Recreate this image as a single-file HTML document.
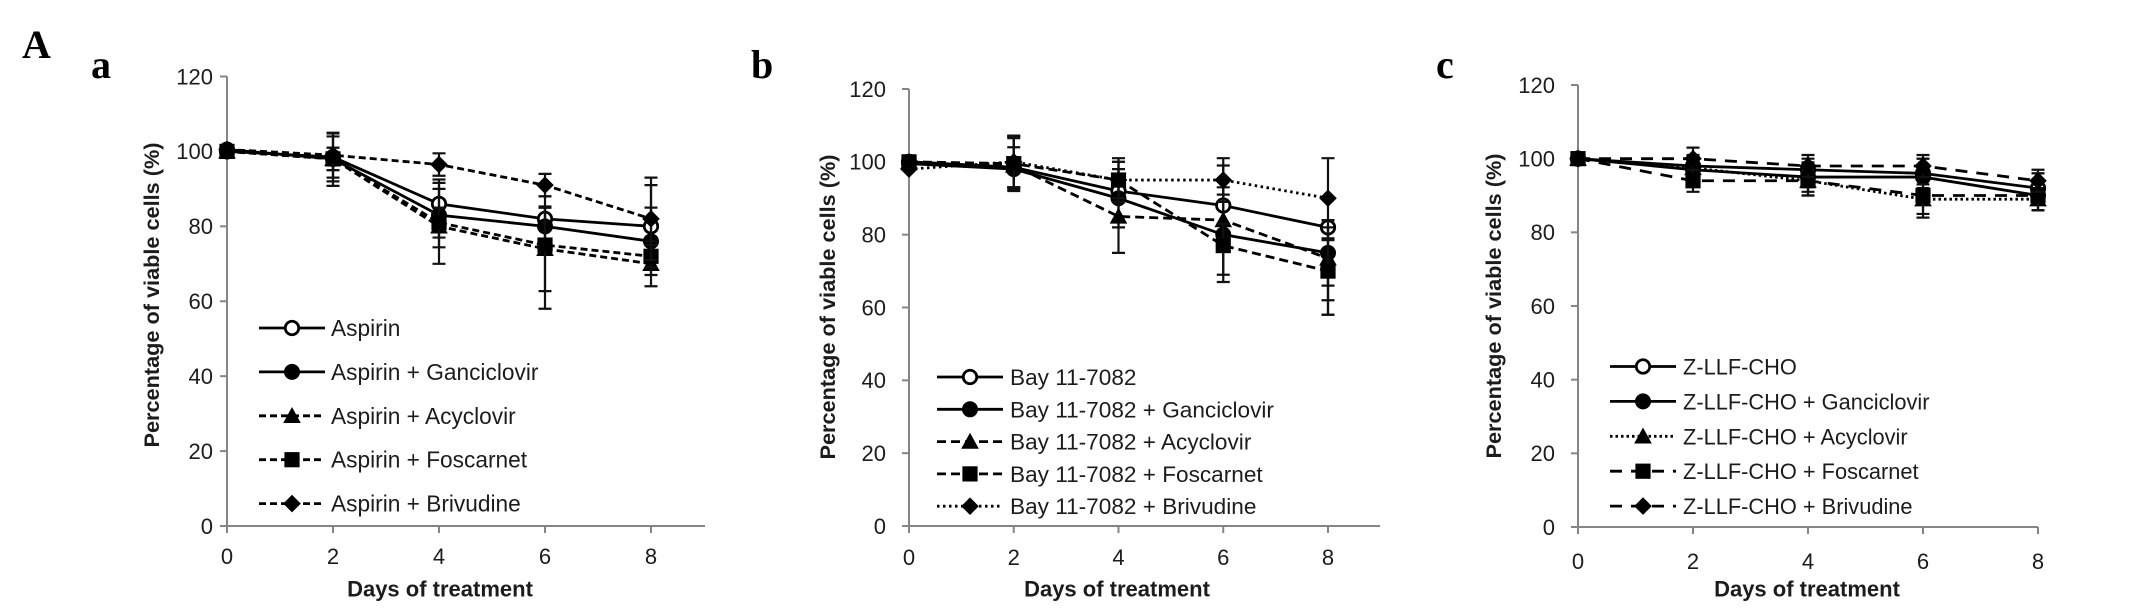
<!DOCTYPE html>
<html lang="en">
<head>
<meta charset="utf-8">
<title>Percentage of viable cells over days of treatment</title>
<style>
html,body{margin:0;padding:0;background:#fff;width:2142px;height:612px;overflow:hidden}
svg{display:block}
text{font-family:"Liberation Sans",sans-serif;fill:#1c1c1c}
.letter{font-family:"Liberation Serif",serif;font-weight:bold;fill:#000}
</style>
</head>
<body>
<svg id="figure" xmlns="http://www.w3.org/2000/svg" width="2142" height="612" viewBox="0 0 2142 612">
  <rect width="2142" height="612" fill="#fff"/>
  <text class="letter" x="22" y="58" font-size="40">A</text>
  <text class="letter" x="91" y="78" font-size="40">a</text>
  <text class="letter" x="751" y="78" font-size="40">b</text>
  <text class="letter" x="1436" y="78" font-size="40">c</text>
</svg>
<script>
// ---------- shared axis data ----------
const days = [0, 2, 4, 6, 8];
const yTickValues = [0, 20, 40, 60, 80, 100, 120];
const xTitle = "Days of treatment";
const yTitle = "Percentage of viable cells (%)";

// ---------- panel a ----------
const aNames = ["Aspirin", "Aspirin + Ganciclovir", "Aspirin + Acyclovir", "Aspirin + Foscarnet", "Aspirin + Brivudine"];
const aAspirin = [100, 98.5, 86, 82, 80];
const aAspirinUp = [0, 6.3, 6.5, 6, 11];
const aAspirinDn = [0, 7.7, 6.5, 6, 11];
const aGanciclovir = [100.5, 98, 83, 80, 76];
const aGanciclovirUp = [0, 6, 8.6, 5, 9];
const aGanciclovirDn = [0, 6, 8.6, 5, 9];
const aAcyclovir = [100, 98, 80, 74, 70];
const aAcyclovirUp = [0, 3, 10, 11.3, 6];
const aAcyclovirDn = [0, 3, 10, 11.3, 6];
const aFoscarnet = [100, 98, 81, 75, 72];
const aFoscarnetUp = [0, 3, 4, 10, 3];
const aFoscarnetDn = [0, 3, 4, 17, 3];
const aBrivudine = [100.5, 99, 96.5, 91, 82];
const aBrivudineUp = [0, 6, 3, 3, 11];
const aBrivudineDn = [0, 6, 3, 3, 11];

// ---------- panel b ----------
const bNames = ["Bay 11-7082", "Bay 11-7082 + Ganciclovir", "Bay 11-7082 + Acyclovir", "Bay 11-7082 + Foscarnet", "Bay 11-7082 + Brivudine"];
const bBay = [100, 98.5, 92, 88, 82];
const bBayUp = [0, 8.7, 8, 5, 2];
const bBayDn = [0, 6.5, 8, 5, 20];
const bGanciclovir = [99.5, 98, 90, 80, 75];
const bGanciclovirUp = [0, 6, 8, 11, 9];
const bGanciclovirDn = [0, 5, 8, 11, 9];
const bAcyclovir = [100, 99, 85, 84, 73.5];
const bAcyclovirUp = [0, 8, 10, 15, 5];
const bAcyclovirDn = [0, 6, 10, 5, 15.5];
const bFoscarnet = [100, 99.5, 95, 77, 70];
const bFoscarnetUp = [0, 7, 5, 6, 12];
const bFoscarnetDn = [0, 7, 5, 10, 12];
const bBrivudine = [98, 100, 95, 95, 90];
const bBrivudineUp = [0, 7, 6, 6, 11];
const bBrivudineDn = [0, 7, 6, 6, 11];

// ---------- panel c ----------
const cNames = ["Z-LLF-CHO", "Z-LLF-CHO + Ganciclovir", "Z-LLF-CHO + Acyclovir", "Z-LLF-CHO + Foscarnet", "Z-LLF-CHO + Brivudine"];
const cZllf = [100, 98, 97, 96, 92];
const cZllfUp = [0, 3, 3, 4, 4];
const cZllfDn = [0, 3, 3, 3, 3];
const cGanciclovir = [100, 97, 95, 95, 90];
const cGanciclovirUp = [0, 3, 4, 5, 6];
const cGanciclovirDn = [0, 3, 4, 5, 4];
const cAcyclovir = [100, 97.5, 94, 89, 89];
const cAcyclovirUp = [0, 3, 4, 3, 3];
const cAcyclovirDn = [0, 3, 4, 4, 3];
const cFoscarnet = [100, 94, 94, 90, 90];
const cFoscarnetUp = [0, 3, 3, 3, 3];
const cFoscarnetDn = [0, 3, 4, 6, 4];
const cBrivudine = [100, 100, 98, 98, 94];
const cBrivudineUp = [0, 3, 3, 3, 3];
const cBrivudineDn = [0, 3, 3, 3, 3];

const NS = "http://www.w3.org/2000/svg";
const fig = document.getElementById("figure");
const markerKinds = ["open-circle", "circle", "triangle", "square", "diamond"];

function mk(tag, attrs, parent) {
  const el = document.createElementNS(NS, tag);
  for (const k in attrs) el.setAttribute(k, attrs[k]);
  parent.appendChild(el);
  return el;
}

function drawMarker(kind, cx, cy, s, parent) {
  let el;
  if (kind === "open-circle") {
    el = mk("circle", {cx: cx, cy: cy, r: s * 0.84, fill: "#fff", stroke: "#000", "stroke-width": 2.8}, parent);
  } else if (kind === "circle") {
    el = mk("circle", {cx: cx, cy: cy, r: s, fill: "#000"}, parent);
  } else if (kind === "square") {
    el = mk("rect", {x: cx - s * 0.95, y: cy - s * 0.95, width: 1.9 * s, height: 1.9 * s, fill: "#000"}, parent);
  } else if (kind === "triangle") {
    const h = s * 1.1;
    el = mk("polygon", {points: (cx - h) + "," + (cy + s * 0.9) + " " + (cx + h) + "," + (cy + s * 0.9) + " " + cx + "," + (cy - s * 1.1), fill: "#000"}, parent);
  } else {
    const d = s * 1.1;
    el = mk("polygon", {points: (cx - d) + "," + cy + " " + cx + "," + (cy - d) + " " + (cx + d) + "," + cy + " " + cx + "," + (cy + d), fill: "#000"}, parent);
  }
  return el;
}

function drawPanel(p) {
  const g = mk("g", {}, fig);
  
  

  const xScale = function (v) { return p.x0 + (p.x8 - p.x0) * v / 8; };
  const yScale = function (v) { return p.y0 + (p.y120 - p.y0) * v / 120; };

  // axes
  const axisColor = "#858585";
  const yAxis = mk("line", {x1: p.x0, x2: p.x0, y1: yScale(120), y2: p.y0 + 7, stroke: axisColor, "stroke-width": 2}, g);
  
  
  const xAxis = mk("line", {x1: p.x0 - 7, x2: p.xEnd, y1: p.y0, y2: p.y0, stroke: axisColor, "stroke-width": 2}, g);
  
  

  yTickValues.forEach(function (v) {
    const y = yScale(v);
    const tick = mk("line", {x1: p.x0 - 7, x2: p.x0, y1: y, y2: y, stroke: axisColor, "stroke-width": 2}, g);
    
    
    const label = mk("text", {x: p.yLabelRight, y: y + 7.8, "text-anchor": "end", "font-size": 22}, g);
    label.textContent = String(v);
    
    
  });
  days.forEach(function (v) {
    const x = xScale(v);
    const tick = mk("line", {x1: x, x2: x, y1: p.y0, y2: p.y0 + 7, stroke: axisColor, "stroke-width": 2}, g);
    
    
    const label = mk("text", {x: x, y: p.xLabelBase, "text-anchor": "middle", "font-size": 22}, g);
    label.textContent = String(v);
    
    
  });

  // axis titles
  const xt = mk("text", {x: p.xTitleX, y: 596.5, "text-anchor": "middle", "font-size": 22, "font-weight": "bold"}, g);
  xt.textContent = xTitle;
  
  
  const yt = mk("text", {x: 0, y: 0, "text-anchor": "middle", "font-size": 21.7, "font-weight": "bold", transform: "translate(" + p.yTitleX + "," + p.yTitleY + ") rotate(-90)"}, g);
  yt.textContent = yTitle;
  
  

  // series
  p.series.forEach(function (s, i) {
    const sg = mk("g", {}, g);
    
    
    s.values.forEach(function (v, j) {
      const x = xScale(days[j]);
      const top = yScale(v + s.up[j]);
      const bot = yScale(v - s.dn[j]);
      if (s.up[j] === 0 && s.dn[j] === 0) return;
      const eb = mk("path", {d: "M" + x + " " + top + "V" + bot + "M" + (x - p.cap) + " " + top + "H" + (x + p.cap) + "M" + (x - p.cap) + " " + bot + "H" + (x + p.cap), stroke: "#111", "stroke-width": 2.2, fill: "none"}, sg);
      
      
    });
    const pts = s.values.map(function (v, j) { return xScale(days[j]) + "," + yScale(v); }).join(" ");
    const line = mk("polyline", {points: pts, fill: "none", stroke: "#000", "stroke-width": 2.8}, sg);
    if (p.dashes[i]) line.setAttribute("stroke-dasharray", p.dashes[i]);
    
    
    s.values.forEach(function (v, j) {
      const m = drawMarker(markerKinds[i], xScale(days[j]), yScale(v), p.markerSize, sg);
      
      
    });
  });

  // legend
  const lg = mk("g", {}, g);
  
  
  p.names.forEach(function (name, i) {
    const y = p.legendTop + i * p.legendStep;
    const entry = mk("g", {}, lg);
    
    
    const l = mk("line", {x1: p.legendX1, x2: p.legendX2, y1: y, y2: y, stroke: "#000", "stroke-width": 2.8}, entry);
    if (p.dashes[i]) l.setAttribute("stroke-dasharray", p.dashes[i]);
    drawMarker(markerKinds[i], (p.legendX1 + p.legendX2) / 2, y, p.markerSize, entry);
    const t = mk("text", {x: p.legendText, y: y + 8, "font-size": p.legendFont}, entry);
    t.textContent = name;
  });
}

drawPanel({
  id: "a", x0: 227, x8: 651, xEnd: 705, y0: 526, y120: 76.5,
  yLabelRight: 213, xLabelBase: 564, xTitleX: 440, yTitleX: 159, yTitleY: 295,
  cap: 6.5, markerSize: 8, dashes: ["", "", "7 4", "7 4", "7 4"],
  names: aNames, legendTop: 328, legendStep: 43.9, legendX1: 259, legendX2: 325, legendText: 331, legendFont: 22.7,
  series: [
    {values: aAspirin, up: aAspirinUp, dn: aAspirinDn},
    {values: aGanciclovir, up: aGanciclovirUp, dn: aGanciclovirDn},
    {values: aAcyclovir, up: aAcyclovirUp, dn: aAcyclovirDn},
    {values: aFoscarnet, up: aFoscarnetUp, dn: aFoscarnetDn},
    {values: aBrivudine, up: aBrivudineUp, dn: aBrivudineDn}
  ]
});

drawPanel({
  id: "b", x0: 909, x8: 1328, xEnd: 1380, y0: 526, y120: 89,
  yLabelRight: 886, xLabelBase: 565, xTitleX: 1117, yTitleX: 835, yTitleY: 307,
  cap: 6.5, markerSize: 8, dashes: ["", "", "9 5", "9 5", "2.5 3.5"],
  names: bNames, legendTop: 377, legendStep: 32.3, legendX1: 937, legendX2: 1003, legendText: 1010, legendFont: 22.6,
  series: [
    {values: bBay, up: bBayUp, dn: bBayDn},
    {values: bGanciclovir, up: bGanciclovirUp, dn: bGanciclovirDn},
    {values: bAcyclovir, up: bAcyclovirUp, dn: bAcyclovirDn},
    {values: bFoscarnet, up: bFoscarnetUp, dn: bFoscarnetDn},
    {values: bBrivudine, up: bBrivudineUp, dn: bBrivudineDn}
  ]
});

drawPanel({
  id: "c", x0: 1578, x8: 2038, xEnd: 2038, y0: 527, y120: 85,
  yLabelRight: 1555, xLabelBase: 569, xTitleX: 1807, yTitleX: 1501, yTitleY: 306,
  cap: 6.5, markerSize: 8, dashes: ["", "", "2.5 3", "12 9", "12 9"],
  names: cNames, legendTop: 366.5, legendStep: 34.9, legendX1: 1610, legendX2: 1676, legendText: 1683, legendFont: 21.8,
  series: [
    {values: cZllf, up: cZllfUp, dn: cZllfDn},
    {values: cGanciclovir, up: cGanciclovirUp, dn: cGanciclovirDn},
    {values: cAcyclovir, up: cAcyclovirUp, dn: cAcyclovirDn},
    {values: cFoscarnet, up: cFoscarnetUp, dn: cFoscarnetDn},
    {values: cBrivudine, up: cBrivudineUp, dn: cBrivudineDn}
  ]
});
</script>
</body>
</html>
